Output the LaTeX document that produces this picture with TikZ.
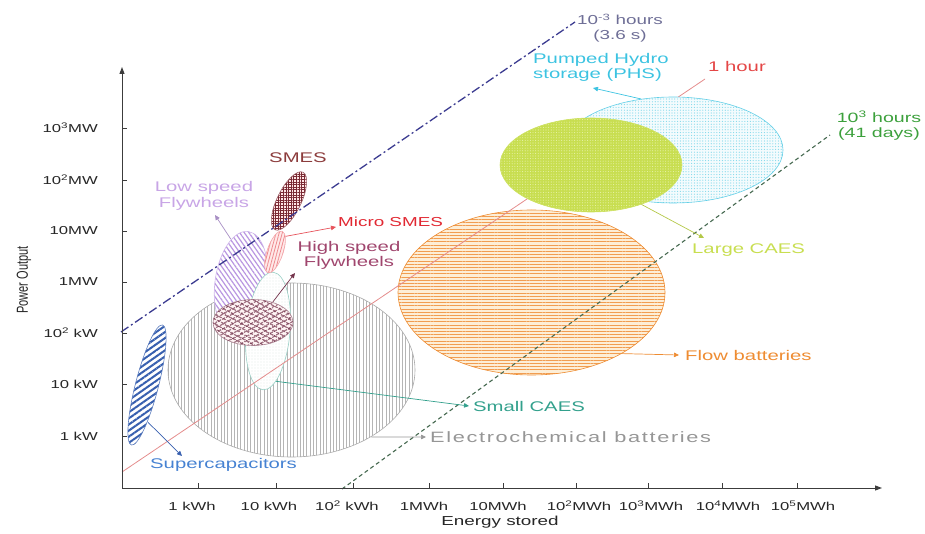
\documentclass[tikz,border=0pt]{standalone}
\usepackage{graphicx}
\usepackage{fontspec}
\setmainfont{Liberation Sans}[FakeStretch=1.45]
\newfontfamily\uprightsans{Liberation Sans}
\usetikzlibrary{shapes.geometric,patterns.meta,arrows.meta}

\definecolor{axisgray}{RGB}{60,60,60}
\definecolor{ecgray}{RGB}{150,150,150}
\definecolor{floworange}{RGB}{238,140,50}
\definecolor{flowcream}{RGB}{253,238,215}
\definecolor{phscyan}{RGB}{60,195,225}
\definecolor{caesgreen}{RGB}{200,222,80}
\definecolor{caesdot}{RGB}{232,243,170}
\definecolor{capblue}{RGB}{55,95,175}
\definecolor{caplabel}{RGB}{70,130,210}
\definecolor{smesdark}{RGB}{120,40,50}
\definecolor{smeslabel}{RGB}{140,60,60}
\definecolor{microred}{RGB}{225,40,50}
\definecolor{lavender}{RGB}{185,150,225}
\definecolor{lavlabel}{RGB}{200,165,230}
\definecolor{hsmaroon}{RGB}{115,50,75}
\definecolor{hslabel}{RGB}{160,70,110}
\definecolor{scteal}{RGB}{50,160,140}
\definecolor{scdot}{RGB}{170,200,185}
\definecolor{navyline}{RGB}{60,60,145}
\definecolor{hourred}{RGB}{228,140,140}
\definecolor{hourlabel}{RGB}{228,70,70}
\definecolor{kiloline}{RGB}{70,105,80}
\definecolor{kilolabel}{RGB}{60,160,60}
\definecolor{millilabel}{RGB}{110,110,150}

\begin{document}
\begin{tikzpicture}[x=1pt,y=1pt,
  region/.style={ellipse, inner sep=0pt, line width=0.6pt},
  tag/.style={inner sep=0pt, font=\fontsize{14}{15.5}\selectfont, align=center},
  ticklabel/.style={inner sep=0pt, font=\fontsize{11.5}{13}\selectfont, text=black!85},
  lead/.style={line width=0.7pt, -{Triangle[length=5pt,width=4.5pt]}},
  axis/.style={line width=1pt, draw=axisgray}]
\useasboundingbox (0,0) rectangle (925,533);

% ---------- storage regions ----------
\node[region, draw=ecgray!80, preaction={fill=white},
  pattern={Lines[angle=90,distance=3.3pt,line width=0.9pt]}, pattern color=ecgray!70,
  minimum width=247pt, minimum height=174pt] (ec) at (291.5,163) {};

\node[region, draw=floworange, preaction={fill=flowcream},
  pattern={Lines[angle=0,distance=3.2pt,line width=0.9pt]}, pattern color=floworange!85,
  minimum width=267pt, minimum height=165pt] (fb) at (531.5,240.5) {};

\node[region, draw=capblue!80, rotate=75.5, preaction={fill=white},
  pattern={Lines[angle=35,distance=5pt,line width=2pt]}, pattern color=capblue,
  minimum width=124pt, minimum height=23pt] (sup) at (147,148) {};

\node[region, draw=lavender!70, rotate=-8, preaction={fill=white},
  pattern={Lines[angle=-55,distance=3.8pt,line width=1.2pt]}, pattern color=lavender,
  minimum width=52pt, minimum height=104pt] (ls) at (241,250) {};

\node[region, draw=scteal!50, rotate=-5, preaction={fill=white},
  pattern={Dots[distance=3pt,radius=0.45pt]}, pattern color=scdot,
  minimum width=44pt, minimum height=118pt] (sc) at (268,202) {};

\node[region, draw=hsmaroon!60, preaction={fill=pink!18},
  pattern={Lines[angle=28,distance=4pt,line width=1.2pt]}, pattern color=hsmaroon,
  postaction={pattern={Lines[angle=-28,distance=4pt,line width=1.2pt]}, pattern color=hsmaroon},
  minimum width=80pt, minimum height=46pt] (hs) at (253,210.5) {};

\node[region, draw=microred!40, rotate=71, preaction={fill=pink!35},
  pattern={Lines[angle=75,distance=3pt,line width=0.8pt]}, pattern color=microred!55,
  minimum width=44pt, minimum height=16pt] (ms) at (275,281) {};

\node[region, draw=smesdark!70, rotate=64, preaction={fill=pink!40},
  pattern={Hatch[angle=0,distance=2.6pt,line width=0.7pt]}, pattern color=smesdark,
  minimum width=64pt, minimum height=24pt] (sm) at (289,332) {};

% 1 hour discharge line (runs beneath the large-scale regions)
\coordinate (hourA) at (122,61);
\coordinate (hourB) at (705,454);
\draw[hourred, line width=0.8pt] (hourA) -- (hourB);

\node[region, draw=phscyan!80, preaction={fill=phscyan!6},
  pattern={Dots[distance=2.8pt,radius=0.6pt]}, pattern color=phscyan!65,
  minimum width=220pt, minimum height=106pt] (phs) at (673,383) {};

\node[region, draw=caesgreen!90, preaction={fill=caesgreen},
  pattern={Dots[distance=2.6pt,radius=0.55pt]}, pattern color=caesdot,
  minimum width=182pt, minimum height=94pt] (lc) at (591,368) {};

% discharge-time lines
\coordinate (milliA) at (121,201);
\coordinate (milliB) at (575,511);
\draw[navyline, line width=1.3pt, dash pattern=on 9pt off 3pt on 2pt off 3pt] (milliA) -- (milliB);

\coordinate (kiloA) at (342,44);
\coordinate (kiloB) at (830,398);
\draw[kiloline, line width=1.1pt, dash pattern=on 4pt off 3pt] (kiloA) -- (kiloB);

% ---------- axes ----------
\coordinate (O) at (122,45);
\coordinate (xend) at (882,45);
\coordinate (yend) at (122,466);
\draw[axis, -{Triangle[length=7pt,width=5pt]}] (O) -- (xend);
\draw[axis, -{Triangle[length=7pt,width=5pt]}] (O) -- (yend);

\foreach \xt in {198,276,353,429,503,576,648,722,797}
  \draw[axisgray, line width=0.8pt] (\xt,45) -- (\xt,50);
\foreach \yt in {405,353,302,251,200,149,97}
  \draw[axisgray, line width=0.8pt] (122,\yt) -- (127,\yt);

\node[ticklabel] (x1) at (192,27) {1 kWh};
\node[ticklabel] (x2) at (269,27) {10 kWh};
\node[ticklabel] (x3) at (347,27) {10\textsuperscript{2} kWh};
\node[ticklabel] (x4) at (424,27) {1MWh};
\node[ticklabel] (x5) at (498,27) {10MWh};
\node[ticklabel] (x6) at (579,27) {10\textsuperscript{2}MWh};
\node[ticklabel] (x7) at (651,27) {10\textsuperscript{3}MWh};
\node[ticklabel] (x8) at (728,27) {10\textsuperscript{4}MWh};
\node[ticklabel] (x9) at (803,27) {10\textsuperscript{5}MWh};
\node[ticklabel, font=\fontsize{13}{15}\selectfont] (xt) at (500,11) {Energy stored};

\node[ticklabel, anchor=east] (y7) at (98,405) {10\textsuperscript{3}MW};
\node[ticklabel, anchor=east] (y6) at (98,353) {10\textsuperscript{2}MW};
\node[ticklabel, anchor=east] (y5) at (98,302) {10MW};
\node[ticklabel, anchor=east] (y4) at (98,251) {1MW};
\node[ticklabel, anchor=east] (y3) at (98,200) {10\textsuperscript{2} kW};
\node[ticklabel, anchor=east] (y2) at (98,149) {10 kW};
\node[ticklabel, anchor=east] (y1) at (98,97) {1 kW};
\node[inner sep=0pt, rotate=90, text=black!85] (yt) at (24,253)
  {\scalebox{1}[1.45]{\uprightsans\fontsize{11}{13}\selectfont Power Output}};

% ---------- labels and leaders ----------
\node[tag, text=millilabel, font=\fontsize{13}{15}\selectfont] (milli) at (620,505) {10\textsuperscript{-3} hours\\(3.6 s)};
\node[tag, text=hourlabel] (hour) at (737,466) {1 hour};
\node[tag, text=kilolabel, font=\fontsize{13.5}{15}\selectfont] (kilo) at (879,407.5) {10\textsuperscript{3} hours\\(41 days)};

\node[tag, text=phscyan, align=left, anchor=west] (phsl) at (533,465.5) {Pumped Hydro\\storage (PHS)};
\node[tag, text=caesgreen, anchor=west] (lcl) at (692,283) {Large CAES};
\node[tag, text=floworange, anchor=west] (fbl) at (685,178) {Flow batteries};
\node[tag, text=scteal, anchor=west] (scl) at (473,127) {Small CAES};
\node[tag, text=ecgray, anchor=west, font=\fontsize{15}{17}\selectfont\addfontfeatures{LetterSpace=11}] (ecl) at (430,96) {Electrochemical batteries};
\node[tag, text=caplabel, anchor=west] (supl) at (150,68) {Supercapacitors};
\node[tag, text=smeslabel] (sml) at (298,375) {SMES};
\node[tag, text=lavlabel] (lsl) at (204,337) {Low speed\\Flywheels};
\node[tag, text=microred, anchor=west, font=\fontsize{13}{15}\selectfont] (msl) at (338,311) {Micro SMES};
\node[tag, text=hslabel] (hsl) at (349,277.5) {High speed\\Flywheels};

\coordinate (lstip) at (215,318);
\coordinate (mstip) at (336,306);
\coordinate (hstip) at (295,260);
\coordinate (sctip) at (469,127);
\coordinate (ectip) at (426,96);
\coordinate (suptip) at (182,77);
\coordinate (fbtip) at (679,178);
\coordinate (lctip) at (704,295);
\coordinate (phstip) at (593,445);

\draw[lead, lavender!70!gray] (ls.111) -- (lstip);
\draw[lead, microred!80] (ms.-15) -- (mstip);
\draw[lead, hsmaroon] (hs.46) -- (hstip);
\draw[lead, scteal] (sc.-76) -- (sctip);
\draw[lead, ecgray] (ec.-40.5) -- (ectip);
\draw[lead, capblue] (sup.-164) -- (suptip);
\draw[lead, floworange] (fb.-34) -- (fbtip);
\draw[lead, caesgreen!90!black] (lc.-38) -- (lctip);
\draw[lead, phscyan] (phs.122) -- (phstip);
\end{tikzpicture}
\end{document}
